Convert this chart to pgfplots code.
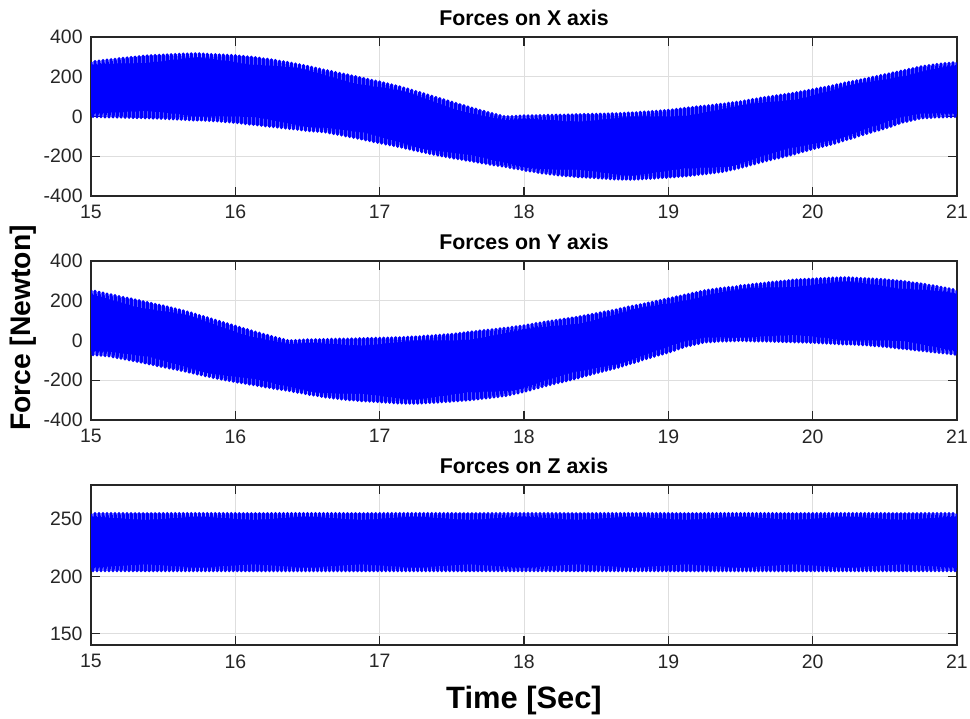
\documentclass[border=0pt]{standalone}
\usepackage{fontspec}
\setmainfont{Liberation Sans}
\usepackage{pgfplots}
\usepackage{pgfplotstable}
\pgfplotsset{compat=1.18}
\definecolor{axisgray}{rgb}{0.15,0.15,0.15}
\definecolor{gridgray}{rgb}{0.87,0.87,0.87}
\definecolor{mblue}{rgb}{0,0,1}

\pgfplotstableread{
t X Y Z
15.0000 275 252 255
15.0139 0 -71 205
15.0278 277 248 255
15.0417 -1 -73 205
15.0556 279 243 255
15.0694 -1 -74 205
15.0833 282 239 255
15.0972 -2 -76 205
15.1111 284 234 255
15.1250 -2 -78 205
15.1389 286 230 255
15.1528 -2 -82 205
15.1667 288 226 255
15.1806 -3 -86 205
15.1944 291 221 255
15.2083 -3 -89 205
15.2222 293 217 255
15.2361 -4 -93 205
15.2500 295 213 255
15.2639 -4 -97 205
15.2778 297 209 255
15.2917 -5 -101 205
15.3056 299 204 255
15.3194 -6 -105 205
15.3333 301 200 255
15.3472 -6 -109 205
15.3611 303 195 255
15.3750 -7 -113 205
15.3889 305 191 255
15.4028 -7 -117 205
15.4167 306 187 255
15.4306 -8 -121 205
15.4444 307 182 255
15.4583 -8 -126 205
15.4722 308 178 255
15.4861 -9 -130 205
15.5000 309 174 255
15.5139 -10 -134 205
15.5278 310 169 255
15.5417 -11 -138 205
15.5556 311 164 255
15.5694 -12 -142 205
15.5833 312 159 255
15.5972 -13 -146 205
15.6111 313 154 255
15.6250 -14 -150 205
15.6389 314 149 255
15.6528 -15 -154 205
15.6667 314 143 255
15.6806 -16 -159 205
15.6944 315 138 255
15.7083 -17 -163 205
15.7222 315 132 255
15.7361 -18 -168 205
15.7500 315 126 255
15.7639 -18 -172 205
15.7778 314 120 255
15.7917 -19 -177 205
15.8056 313 114 255
15.8194 -20 -181 205
15.8333 312 108 255
15.8472 -21 -186 205
15.8611 311 102 255
15.8750 -22 -190 205
15.8889 310 96 255
15.9028 -24 -194 205
15.9167 309 90 255
15.9306 -26 -198 205
15.9444 308 84 255
15.9583 -27 -201 205
15.9722 307 78 255
15.9861 -29 -205 205
16.0000 306 72 255
16.0139 -31 -209 205
16.0278 304 66 255
16.0417 -33 -212 205
16.0556 302 60 255
16.0694 -36 -215 205
16.0833 300 54 255
16.0972 -38 -219 205
16.1111 298 48 255
16.1250 -40 -222 205
16.1389 296 42 255
16.1528 -42 -226 205
16.1667 293 37 255
16.1806 -44 -229 205
16.1944 290 31 255
16.2083 -47 -233 205
16.2222 288 26 255
16.2361 -49 -236 205
16.2500 285 20 255
16.2639 -51 -240 205
16.2778 282 15 255
16.2917 -53 -243 205
16.3056 278 10 255
16.3194 -56 -246 205
16.3333 275 5 255
16.3472 -58 -249 205
16.3611 272 0 255
16.3750 -60 -252 205
16.3889 268 -1 255
16.4028 -62 -256 205
16.4167 264 0 255
16.4306 -64 -260 205
16.4444 260 1 255
16.4583 -67 -263 205
16.4722 256 2 255
16.4861 -69 -267 205
16.5000 252 3 255
16.5139 -71 -271 205
16.5278 248 3 255
16.5417 -73 -274 205
16.5556 243 4 255
16.5694 -74 -277 205
16.5833 239 4 255
16.5972 -76 -281 205
16.6111 234 5 255
16.6250 -78 -284 205
16.6389 230 5 255
16.6528 -82 -286 205
16.6667 226 6 255
16.6806 -86 -289 205
16.6944 221 6 255
16.7083 -89 -291 205
16.7222 217 7 255
16.7361 -93 -294 205
16.7500 213 7 255
16.7639 -97 -296 205
16.7778 209 7 255
16.7917 -101 -298 205
16.8056 204 8 255
16.8194 -105 -299 205
16.8333 200 8 255
16.8472 -109 -301 205
16.8611 195 9 255
16.8750 -113 -303 205
16.8889 191 9 255
16.9028 -117 -304 205
16.9167 187 10 255
16.9306 -121 -305 205
16.9444 182 10 255
16.9583 -126 -306 205
16.9722 178 11 255
16.9861 -130 -307 205
17.0000 174 11 255
17.0139 -134 -309 205
17.0278 169 12 255
17.0417 -138 -310 205
17.0556 164 12 255
17.0694 -142 -311 205
17.0833 159 13 255
17.0972 -146 -313 205
17.1111 154 14 255
17.1250 -150 -314 205
17.1389 149 14 255
17.1528 -154 -314 205
17.1667 143 15 255
17.1806 -159 -315 205
17.1944 138 16 255
17.2083 -163 -315 205
17.2222 132 17 255
17.2361 -168 -316 205
17.2500 126 18 255
17.2639 -172 -315 205
17.2778 120 19 255
17.2917 -177 -314 205
17.3056 114 21 255
17.3194 -181 -313 205
17.3333 108 22 255
17.3472 -186 -312 205
17.3611 102 23 255
17.3750 -190 -311 205
17.3889 96 25 255
17.4028 -194 -310 205
17.4167 90 26 255
17.4306 -198 -308 205
17.4444 84 28 255
17.4583 -201 -307 205
17.4722 78 29 255
17.4861 -205 -306 205
17.5000 72 31 255
17.5139 -209 -304 205
17.5278 66 33 255
17.5417 -212 -303 205
17.5556 60 36 255
17.5694 -215 -301 205
17.5833 54 38 255
17.5972 -219 -300 205
17.6111 48 41 255
17.6250 -222 -298 205
17.6389 42 43 255
17.6528 -226 -296 205
17.6667 37 45 255
17.6806 -229 -294 205
17.6944 31 48 255
17.7083 -233 -291 205
17.7222 26 50 255
17.7361 -236 -289 205
17.7500 20 52 255
17.7639 -240 -287 205
17.7778 15 54 255
17.7917 -243 -284 205
17.8056 10 56 255
17.8194 -246 -282 205
17.8333 5 59 255
17.8472 -249 -279 205
17.8611 0 61 255
17.8750 -252 -277 205
17.8889 -1 63 255
17.9028 -256 -273 205
17.9167 0 66 255
17.9306 -260 -268 205
17.9444 1 69 255
17.9583 -263 -264 205
17.9722 2 71 255
17.9861 -267 -259 205
18.0000 3 74 255
18.0139 -271 -254 205
18.0278 3 78 255
18.0417 -274 -249 205
18.0556 4 81 255
18.0694 -277 -243 205
18.0833 4 85 255
18.0972 -281 -238 205
18.1111 5 88 255
18.1250 -284 -232 205
18.1389 5 92 255
18.1528 -286 -227 205
18.1667 6 95 255
18.1806 -289 -222 205
18.1944 6 98 255
18.2083 -291 -217 205
18.2222 7 101 255
18.2361 -294 -212 205
18.2500 7 104 255
18.2639 -296 -208 205
18.2778 7 107 255
18.2917 -298 -203 205
18.3056 8 110 255
18.3194 -299 -198 205
18.3333 8 113 255
18.3472 -301 -193 205
18.3611 9 116 255
18.3750 -303 -188 205
18.3889 9 120 255
18.4028 -304 -182 205
18.4167 10 124 255
18.4306 -305 -176 205
18.4444 10 127 255
18.4583 -306 -171 205
18.4722 11 131 255
18.4861 -307 -165 205
18.5000 11 135 255
18.5139 -309 -160 205
18.5278 12 139 255
18.5417 -310 -155 205
18.5556 12 143 255
18.5694 -311 -150 205
18.5833 13 146 255
18.5972 -313 -145 205
18.6111 14 150 255
18.6250 -314 -140 205
18.6389 14 154 255
18.6528 -314 -134 205
18.6667 15 159 255
18.6806 -315 -128 205
18.6944 16 163 255
18.7083 -315 -122 205
18.7222 17 168 255
18.7361 -316 -116 205
18.7500 18 172 255
18.7639 -315 -110 205
18.7778 19 176 255
18.7917 -314 -104 205
18.8056 21 180 255
18.8194 -313 -97 205
18.8333 22 184 255
18.8472 -312 -91 205
18.8611 23 188 255
18.8750 -311 -85 205
18.8889 25 192 255
18.9028 -310 -79 205
18.9167 26 197 255
18.9306 -308 -73 205
18.9444 28 201 255
18.9583 -307 -68 205
18.9722 29 206 255
18.9861 -306 -62 205
19.0000 31 210 255
19.0139 -304 -56 205
19.0278 33 214 255
19.0417 -303 -49 205
19.0556 36 219 255
19.0694 -301 -42 205
19.0833 38 223 255
19.0972 -300 -35 205
19.1111 41 228 255
19.1250 -298 -28 205
19.1389 43 232 255
19.1528 -296 -24 205
19.1667 45 237 255
19.1806 -294 -19 205
19.1944 48 241 255
19.2083 -291 -15 205
19.2222 50 246 255
19.2361 -289 -10 205
19.2500 52 250 255
19.2639 -287 -7 205
19.2778 54 253 255
19.2917 -284 -6 205
19.3056 56 256 255
19.3194 -282 -5 205
19.3333 59 259 255
19.3472 -279 -3 205
19.3611 61 262 255
19.3750 -277 -2 205
19.3889 63 264 255
19.4028 -273 -2 205
19.4167 66 266 255
19.4306 -268 -1 205
19.4444 69 268 255
19.4583 -264 -1 205
19.4722 71 270 255
19.4861 -259 0 205
19.5000 74 275 255
19.5139 -254 0 205
19.5278 78 277 255
19.5417 -249 -1 205
19.5556 81 279 255
19.5694 -243 -1 205
19.5833 85 282 255
19.5972 -238 -2 205
19.6111 88 284 255
19.6250 -232 -2 205
19.6389 92 286 255
19.6528 -227 -2 205
19.6667 95 288 255
19.6806 -222 -3 205
19.6944 98 291 255
19.7083 -217 -3 205
19.7222 101 293 255
19.7361 -212 -4 205
19.7500 104 295 255
19.7639 -208 -4 205
19.7778 107 297 255
19.7917 -203 -5 205
19.8056 110 299 255
19.8194 -198 -6 205
19.8333 113 301 255
19.8472 -193 -6 205
19.8611 116 303 255
19.8750 -188 -7 205
19.8889 120 305 255
19.9028 -182 -7 205
19.9167 124 306 255
19.9306 -176 -8 205
19.9444 127 307 255
19.9583 -171 -8 205
19.9722 131 308 255
19.9861 -165 -9 205
20.0000 135 309 255
20.0139 -160 -10 205
20.0278 139 310 255
20.0417 -155 -11 205
20.0556 143 311 255
20.0694 -150 -12 205
20.0833 146 312 255
20.0972 -145 -13 205
20.1111 150 313 255
20.1250 -140 -14 205
20.1389 154 314 255
20.1528 -134 -15 205
20.1667 159 314 255
20.1806 -128 -16 205
20.1944 163 315 255
20.2083 -122 -17 205
20.2222 168 315 255
20.2361 -116 -18 205
20.2500 172 315 255
20.2639 -110 -18 205
20.2778 176 314 255
20.2917 -104 -19 205
20.3056 180 313 255
20.3194 -97 -20 205
20.3333 184 312 255
20.3472 -91 -21 205
20.3611 188 311 255
20.3750 -85 -22 205
20.3889 192 310 255
20.4028 -79 -24 205
20.4167 197 309 255
20.4306 -73 -26 205
20.4444 201 308 255
20.4583 -68 -27 205
20.4722 206 307 255
20.4861 -62 -29 205
20.5000 210 306 255
20.5139 -56 -31 205
20.5278 214 304 255
20.5417 -49 -33 205
20.5556 219 302 255
20.5694 -42 -36 205
20.5833 223 300 255
20.5972 -35 -38 205
20.6111 228 298 255
20.6250 -28 -40 205
20.6389 232 296 255
20.6528 -24 -42 205
20.6667 237 293 255
20.6806 -19 -44 205
20.6944 241 290 255
20.7083 -15 -47 205
20.7222 246 288 255
20.7361 -10 -49 205
20.7500 250 285 255
20.7639 -7 -51 205
20.7778 253 282 255
20.7917 -6 -53 205
20.8056 256 278 255
20.8194 -5 -56 205
20.8333 259 275 255
20.8472 -3 -58 205
20.8611 262 272 255
20.8750 -2 -60 205
20.8889 264 268 255
20.9028 -2 -62 205
20.9167 266 264 255
20.9306 -1 -64 205
20.9444 268 260 255
20.9583 -1 -67 205
20.9722 270 256 255
20.9861 0 -69 205
21.0000 272 252 255
}\data

\pgfplotsset{
  every axis title shift=0pt,
  myax/.style={
    scale only axis,
    width=433bp,
    xmin=15, xmax=21,
    xtick={15,16,17,18,19,20,21},
    grid=major,
    major grid style={line width=0.5bp, color=gridgray},
    axis line style={line width=0.65bp, color=axisgray},
    every tick/.style={line width=0.65bp, color=axisgray},
    major tick length=4.3bp,
    tick align=inside,
    xtick pos=both, ytick pos=both,
    /pgf/number format/assume math mode=true,
    ticklabel style={font=\fontsize{9.75}{11.7}\selectfont, text=axisgray},
    xticklabel style={yshift=-1.2bp},
    yticklabel style={xshift=-0.7bp},
    title style={font=\bfseries\fontsize{10.7}{12.8}\selectfont, text=black,
      at={(0.5,1)}, anchor=south, yshift=2bp},
  },
  sig/.style={color=mblue, line width=1.65bp, line join=round, mark=none},
}

\begin{document}
\begin{tikzpicture}
\useasboundingbox (0,0) rectangle (485bp,359.5bp);

\begin{axis}[myax, at={(45.5bp,261.5bp)}, anchor=south west, height=79.5bp,
  ymin=-400, ymax=400, ytick={-400,-200,0,200,400},
  yticklabels={-400,-200,0,200,400},
  title={Forces on X axis}]
\addplot[sig] table[x=t, y=X] {\data};
\end{axis}

\begin{axis}[myax, at={(45.5bp,149.5bp)}, anchor=south west, height=79.5bp,
  ymin=-400, ymax=400, ytick={-400,-200,0,200,400},
  yticklabels={-400,-200,0,200,400},
  title={Forces on Y axis}]
\addplot[sig] table[x=t, y=Y] {\data};
\end{axis}

\begin{axis}[myax, at={(45.5bp,37bp)}, anchor=south west, height=80bp,
  ymin=140, ymax=280, ytick={150,200,250},
  title={Forces on Z axis},
  xlabel={Time [Sec]},
  xlabel style={font=\bfseries\fontsize{15.5}{18.6}\selectfont, text=black,
    at={(axis description cs:0.5,0)}, anchor=base, yshift=-31.5bp}]
\addplot[sig] table[x=t, y=Z] {\data};
\end{axis}

\node[rotate=90, font=\bfseries\fontsize{14.2}{17}\selectfont, text=black]
  at (11.5bp,195.5bp) {Force [Newton]};
\end{tikzpicture}
\end{document}
